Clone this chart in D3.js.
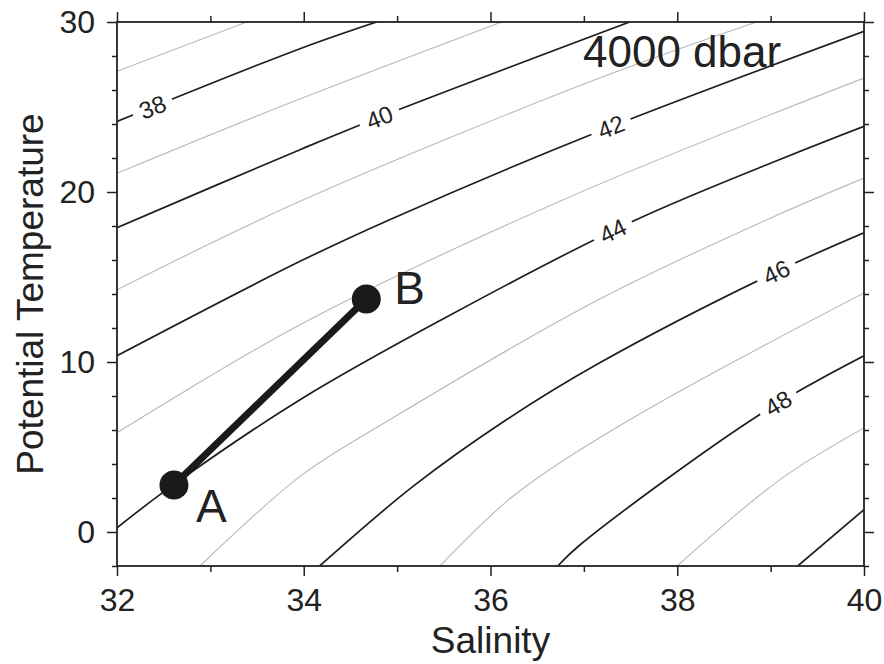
<!DOCTYPE html>
<html>
  <head>
    <meta charset="UTF-8">
    <title>4000 dbar</title>
    <style>
      body { margin: 0; background: #fff; }
      text { font-family: "Liberation Sans", Arial, sans-serif; fill: #222; }
    </style>
  </head>
  <body>
    <script src="https://d3js.org/d3.v7.min.js"></script>
    <svg width="884" height="664" id="ts"></svg>
    <script>

      // density contour levels (sigma at 4000 dbar), even ones are drawn black
      var contourLevels = [37, 38, 39, 40, 41, 42, 43, 44, 45, 46, 47, 48, 49, 50];

      // points [salinity, temperature]
      var contourLines = [
        [[32, 27.1], [33.39, 30]],
        [[32, 24.15], [33.96, 28.43], [34.78, 30]],
        [[32, 21.1], [33.74, 25.0], [36.12, 30]],
        [[32, 17.9], [33.96, 22.49], [34.81, 24.4], [37.49, 30]],
        [[32, 14.25], [33.96, 19.45], [37.12, 26.6], [38.85, 30]],
        [[32, 10.37], [33.96, 15.92], [34.92, 18.37], [37.12, 23.47], [40, 29.45]],
        [[32, 5.84], [33.96, 12.19], [36.78, 19.55], [40, 26.7]],
        [[32, 0.25], [32.61, 2.8], [33.96, 7.78], [35.43, 12.35], [37.56, 18.37], [40, 23.86]],
        [[32.89, -2], [33.96, 3.27], [34.92, 6.6], [37.17, 13.7], [38.96, 18.37], [40, 20.82]],
        [[34.17, -2], [35.17, 2.68], [36.17, 6.6], [37.17, 9.95], [39.06, 15.3], [40, 17.6]],
        [[35.46, -2], [36.24, 2.1], [37.49, 6.6], [40, 14.06]],
        [[36.72, -2], [36.96, -0.75], [38.88, 6.9], [40, 10.37]],
        [[38.0, -2], [39.1, 3.08], [40, 6.12]],
        [[39.29, -2], [40, 1.31]]
      ];

      // which contours carry a label, and at what salinity
      var labelLevels = [38, 40, 42, 44, 46, 48];
      var labelSal = [32.38, 34.81, 37.29, 37.31, 39.06, 39.08];

      // the two water masses
      var pointNames = ["A", "B"];
      var pointSal = [32.61, 34.67];
      var pointTemp = [2.76, 13.71];

      var salTicks = [32, 34, 36, 38, 40];
      var salMinor = [33, 35, 37, 39];
      var tempTicks = [0, 10, 20, 30];
      var tempMinor = [-2, 2, 4, 6, 8, 12, 14, 16, 18, 22, 24, 26, 28];

      var svg = d3.select("#ts");
      var pLeft = 117, pRight = 864, pTop = 22, pBottom = 566;

      var x = d3.scaleLinear().domain([32, 40]).range([pLeft, pRight]);
      var y = d3.scaleLinear().domain([-2, 30]).range([pBottom, pTop]);

      svg.append("clipPath").attr("id", "plotclip")
        .append("rect")
        .attr("x", pLeft).attr("y", pTop)
        .attr("width", pRight - pLeft).attr("height", pBottom - pTop);

      var plot = svg.append("g").attr("clip-path", "url(#plotclip)");

      var line = d3.line()
        .x(function(d) { return x(d[0]); })
        .y(function(d) { return y(d[1]); })
        .curve(d3.curveCatmullRom.alpha(0.5));

      var paths = plot.selectAll(".contour")
        .data(contourLines)
        .enter()
        .append("path")
        .attr("class", "contour")
        .attr("fill", "none")
        .attr("stroke", function(d, i) { return contourLevels[i] % 2 == 0 ? "#1e1e1e" : "#b8b8b8"; })
        .attr("stroke-width", function(d, i) { return contourLevels[i] % 2 == 0 ? 1.7 : 1.1; })
        .attr("d", line);

      // find the point on a contour path at a given pixel x
      function pointAtX(node, px) {
        var len = node.getTotalLength(), lo = 0, hi = len;
        for (var k = 0; k < 40; k++) {
          var mid = (lo + hi) / 2;
          if (node.getPointAtLength(mid).x < px) lo = mid; else hi = mid;
        }
        return node.getPointAtLength(lo);
      }

      // contour labels, rotated along the line with a gap behind them
      labelLevels.forEach(function(lev, j) {
        var idx = contourLevels.indexOf(lev);
        var node = paths.nodes()[idx];
        var px = x(labelSal[j]);
        var p = pointAtX(node, px);
        var p1 = pointAtX(node, px - 6), p2 = pointAtX(node, px + 6);
        var ang = Math.atan2(p2.y - p1.y, p2.x - p1.x) * 180 / Math.PI;
        var g = plot.append("g")
          .attr("transform", "translate(" + p.x + "," + p.y + ") rotate(" + ang + ")");
        g.append("rect")
          .attr("x", -21).attr("y", -11)
          .attr("width", 42).attr("height", 22)
          .attr("fill", "#fff");
        g.append("text")
          .attr("text-anchor", "middle")
          .attr("dy", "0.36em")
          .style("font-size", "24px")
          .text(lev);
      });

      // A-B mixing line
      plot.append("line")
        .attr("x1", x(pointSal[0])).attr("y1", y(pointTemp[0]))
        .attr("x2", x(pointSal[1])).attr("y2", y(pointTemp[1]))
        .attr("stroke", "#1a1a1a")
        .attr("stroke-width", 7);

      plot.selectAll(".pt")
        .data(pointNames)
        .enter()
        .append("circle")
        .attr("class", "pt")
        .attr("cx", function(d, i) { return x(pointSal[i]); })
        .attr("cy", function(d, i) { return y(pointTemp[i]); })
        .attr("r", 14.5)
        .attr("fill", "#1a1a1a");

      svg.selectAll(".ptlabel")
        .data(pointNames)
        .enter()
        .append("text")
        .attr("class", "ptlabel")
        .attr("x", function(d, i) { return x(pointSal[i]) + (i == 0 ? 22 : 28); })
        .attr("y", function(d, i) { return y(pointTemp[i]) + (i == 0 ? 37 : 5); })
        .style("font-size", "46px")
        .text(function(d) { return d; });

      svg.append("text")
        .attr("x", 583).attr("y", 67)
        .style("font-size", "44px")
        .text("4000 dbar");

      // frame
      svg.append("rect")
        .attr("x", pLeft).attr("y", pTop)
        .attr("width", pRight - pLeft).attr("height", pBottom - pTop)
        .attr("fill", "none")
        .attr("stroke", "#222")
        .attr("stroke-width", 1.8);

      function styleAxis(g) {
        g.select(".domain").remove();
        g.selectAll(".tick line").attr("stroke", "#222").attr("stroke-width", 1.5);
        g.selectAll(".tick text").style("font-size", "32px").attr("fill", "#222");
      }

      svg.append("g").attr("transform", "translate(0," + pBottom + ")")
        .call(d3.axisBottom(x).tickValues(salTicks).tickSize(10).tickPadding(12).tickFormat(d3.format("d")))
        .call(styleAxis);
      svg.append("g").attr("transform", "translate(0," + pBottom + ")")
        .call(d3.axisBottom(x).tickValues(salMinor).tickSize(6).tickFormat(""))
        .call(styleAxis);
      svg.append("g").attr("transform", "translate(0," + pTop + ")")
        .call(d3.axisTop(x).tickValues(salTicks).tickSize(10).tickFormat(""))
        .call(styleAxis);
      svg.append("g").attr("transform", "translate(0," + pTop + ")")
        .call(d3.axisTop(x).tickValues(salMinor).tickSize(6).tickFormat(""))
        .call(styleAxis);

      svg.append("g").attr("transform", "translate(" + pLeft + ",0)")
        .call(d3.axisLeft(y).tickValues(tempTicks).tickSize(10).tickPadding(12).tickFormat(d3.format("d")))
        .call(styleAxis);
      svg.append("g").attr("transform", "translate(" + pLeft + ",0)")
        .call(d3.axisLeft(y).tickValues(tempMinor).tickSize(5).tickFormat(""))
        .call(styleAxis);
      svg.append("g").attr("transform", "translate(" + pRight + ",0)")
        .call(d3.axisRight(y).tickValues(tempTicks).tickSize(10).tickFormat(""))
        .call(styleAxis);
      svg.append("g").attr("transform", "translate(" + pRight + ",0)")
        .call(d3.axisRight(y).tickValues(tempMinor).tickSize(5).tickFormat(""))
        .call(styleAxis);

      // axis titles
      svg.append("text")
        .attr("x", (pLeft + pRight) / 2).attr("y", 653)
        .attr("text-anchor", "middle")
        .style("font-size", "37px")
        .text("Salinity");

      svg.append("text")
        .attr("transform", "translate(43," + (pTop + pBottom) / 2 + ") rotate(-90)")
        .attr("text-anchor", "middle")
        .style("font-size", "37px")
        .text("Potential Temperature");
    </script>
  </body>
</html>
